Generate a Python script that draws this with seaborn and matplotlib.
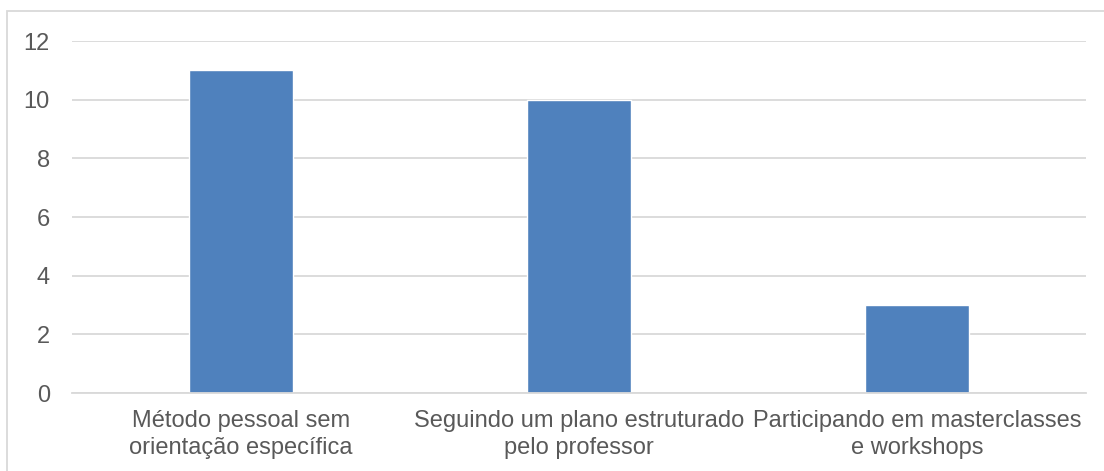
import matplotlib
matplotlib.use("Agg")
import matplotlib.pyplot as plt
import seaborn as sns
import pandas as pd
from matplotlib.patches import Rectangle

categories = ["Método pessoal sem\norientação específica",
              "Seguindo um plano estruturado\npelo professor",
              "Participando em masterclasses\ne workshops"]
values = [11, 10, 3]

sns.set_theme(style="white")
plt.rcParams['font.family'] = ['Liberation Sans', 'DejaVu Sans']

df = pd.DataFrame({"cat": categories, "val": values})
W, H = 1104, 471
fig = plt.figure(figsize=(W/100, H/100), dpi=100)
ax = fig.add_axes([72/W, 1-393/H, (1086-72)/W, (393-41)/H])
sns.barplot(data=df, x="cat", y="val", color="#4F81BD", saturation=1, width=0.31, ax=ax)
ax.set_ylim(0, 12)
ax.set_xlim(-0.5, 2.5)
ax.set_yticks(range(0, 13, 2))
ax.yaxis.grid(True, color="#D9D9D9", linewidth=1.3)
ax.set_axisbelow(True)
for s in ["top", "right", "left"]:
    ax.spines[s].set_visible(False)
ax.spines["bottom"].set_color("#D9D9D9")
ax.spines["bottom"].set_linewidth(1.3)
ax.set_xlabel("")
ax.set_ylabel("")
ax.tick_params(axis="both", length=0, labelsize=17, labelcolor="#595959")
ax.tick_params(axis="y", pad=16)
ax.tick_params(axis="x", pad=12)
for t in ax.get_xticklabels():
    t.set_linespacing(1.3)
fig.patches.append(Rectangle((7/W, -0.05), (W-7)/W + 0.05, 1-11/H + 0.05, transform=fig.transFigure,
                             fill=False, edgecolor="#D9D9D9", linewidth=1.3))
fig.savefig("out.png", dpi=100, facecolor="white")
